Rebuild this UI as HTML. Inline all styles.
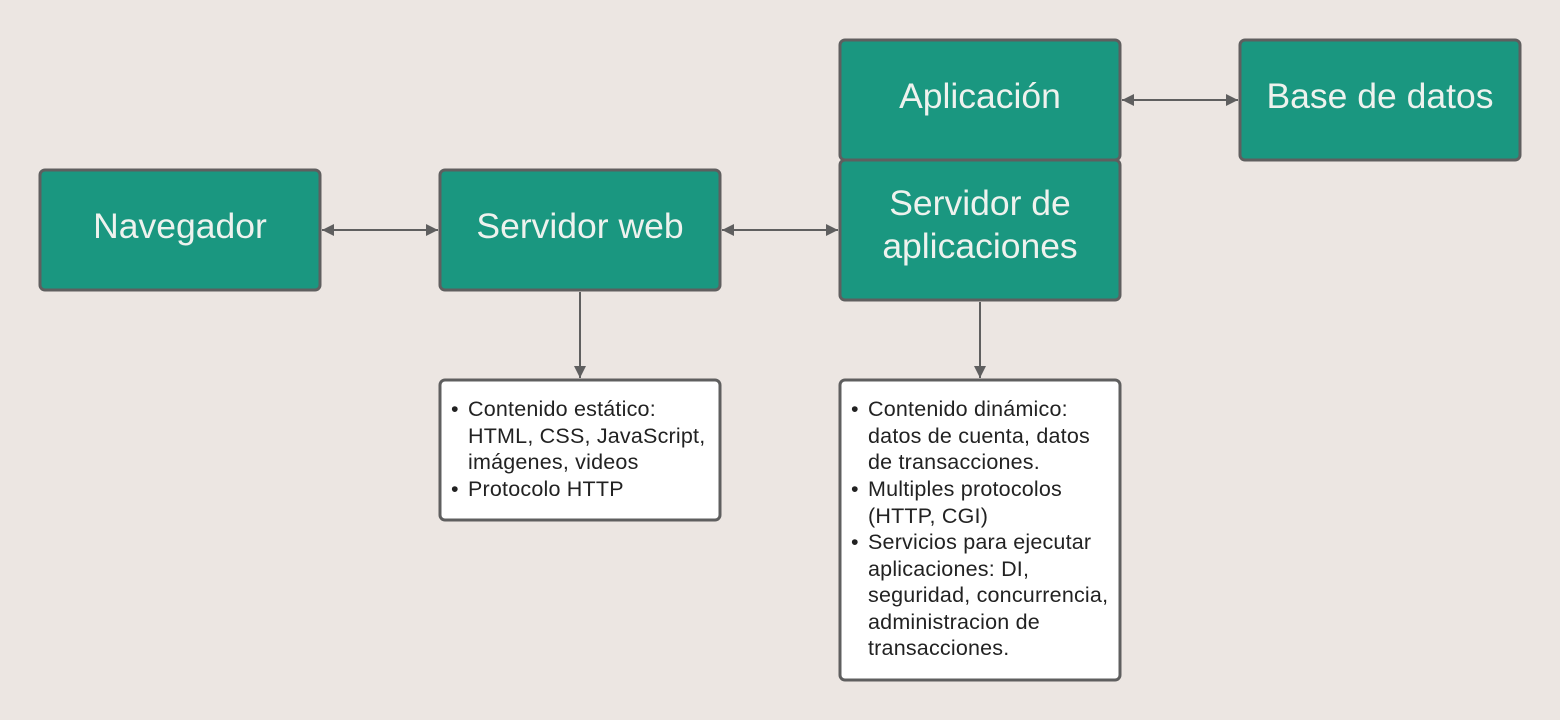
<!DOCTYPE html>
<html><head><meta charset="utf-8"><style>
html,body{margin:0;padding:0;background:#ece6e2;}
svg{display:block;}
.t{font-family:"Liberation Sans",sans-serif;font-size:35.5px;fill:#eef2ee;text-anchor:middle;}
.l{font-family:"Liberation Sans",sans-serif;font-size:21.5px;letter-spacing:0.2px;fill:#222;}
</style></head><body>
<svg width="1560" height="720" viewBox="0 0 1560 720">
<defs>
<marker id="a" viewBox="0 0 10 10" refX="10" refY="5" markerWidth="18" markerHeight="12" markerUnits="userSpaceOnUse" orient="auto-start-reverse"><path d="M0,0 L10,5 L0,10 z" fill="#5f5f5f"/></marker>
</defs>
<rect width="1560" height="720" fill="#ece6e2"/>
<g stroke="#5f5f5f" stroke-width="3" fill="#1a9780">
<rect x="40" y="170" width="280" height="120" rx="5"/>
<rect x="440" y="170" width="280" height="120" rx="5"/>
<rect x="840" y="40" width="280" height="120" rx="5"/>
<rect x="840" y="160" width="280" height="140" rx="5"/>
<rect x="1240" y="40" width="280" height="120" rx="5"/>
<rect x="440" y="380" width="280" height="140" rx="5" fill="#fff"/>
<rect x="840" y="380" width="280" height="300" rx="5" fill="#fff"/>
</g>
<g stroke="#5f5f5f" stroke-width="2" fill="none">
<line x1="322" y1="230" x2="438" y2="230" marker-start="url(#a)" marker-end="url(#a)"/>
<line x1="722" y1="230" x2="838" y2="230" marker-start="url(#a)" marker-end="url(#a)"/>
<line x1="1122" y1="100" x2="1238" y2="100" marker-start="url(#a)" marker-end="url(#a)"/>
<line x1="580" y1="292" x2="580" y2="378" marker-end="url(#a)"/>
<line x1="980" y1="302" x2="980" y2="378" marker-end="url(#a)"/>
</g>
<text class="t" x="180" y="238">Navegador</text>
<text class="t" x="580" y="238">Servidor web</text>
<text class="t" x="980" y="108">Aplicación</text>
<text class="t" x="980" y="215">Servidor de</text>
<text class="t" x="980" y="258">aplicaciones</text>
<text class="t" x="1380" y="108">Base de datos</text>
<g class="l">
<text x="451" y="416">•</text><text x="468" y="416">Contenido estático:</text>
<text x="468" y="443">HTML, CSS, JavaScript,</text>
<text x="468" y="469">imágenes, videos</text>
<text x="451" y="496">•</text><text x="468" y="496">Protocolo HTTP</text>
<text x="851" y="416">•</text><text x="868" y="416">Contenido dinámico:</text>
<text x="868" y="443">datos de cuenta, datos</text>
<text x="868" y="469">de transacciones.</text>
<text x="851" y="496">•</text><text x="868" y="496">Multiples protocolos</text>
<text x="868" y="523">(HTTP, CGI)</text>
<text x="851" y="549">•</text><text x="868" y="549">Servicios para ejecutar</text>
<text x="868" y="576">aplicaciones: DI,</text>
<text x="868" y="602">seguridad, concurrencia,</text>
<text x="868" y="629">administracion de</text>
<text x="868" y="655">transacciones.</text>
</g>
</svg>
</body></html>
